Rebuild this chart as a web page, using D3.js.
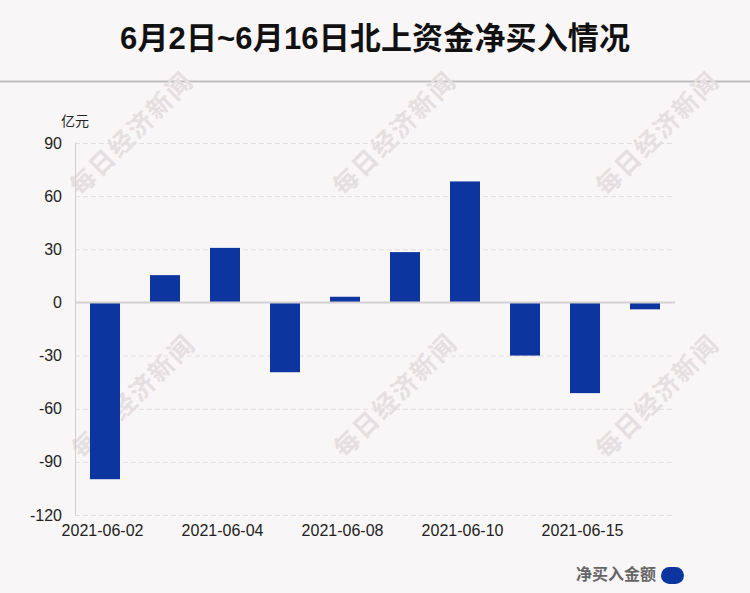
<!DOCTYPE html>
<html><head><meta charset="utf-8">
<script src="https://cdn.jsdelivr.net/npm/d3@7"></script>
<style>body{margin:0;background:#f9f6f7}svg{display:block}</style>
</head><body><svg id="c" width="750" height="593"></svg>
<script>
const categories = ["2021-06-02","2021-06-03","2021-06-04","2021-06-07","2021-06-08","2021-06-09","2021-06-10","2021-06-11","2021-06-15","2021-06-16"];
const netBuy = [-99.8, 15.4, 30.8, -39.4, 3.2, 28.4, 68.3, -30.0, -51.2, -3.9];
const yTicks = [-120, -90, -60, -30, 0, 30, 60, 90];
const titleText = "6月2日~6月16日北上资金净买入情况";
const unitLabel = "亿元";
const seriesName = "净买入金额";
const watermarkText = "每日经济新闻";

(function () {
const W = 750, H = 593;
const svg = d3.select("#c");
svg.append("rect").attr("width", W).attr("height", H).attr("fill", "#f9f6f7");

const pL = 75, pR = 675, pT = 143, pB = 515;
const x = d3.scaleBand().domain(categories).range([pL, pR]).paddingInner(0.5).paddingOuter(0.25);
const y = d3.scaleLinear().domain([-120, 90]).range([pB, pT]);

// title
svg.append("text").attr("x", 375).attr("y", 49).attr("text-anchor", "middle")
  .attr("font-family", "'Liberation Sans','Noto Sans CJK SC',sans-serif")
  .attr("font-weight", "bold").attr("font-size", 31).attr("fill", "#111")
  .attr("textLength", 510).attr("lengthAdjust", "spacing")
  .text(titleText);
svg.append("line").attr("x1", 0).attr("x2", W).attr("y1", 81.5).attr("y2", 81.5)
  .attr("stroke", "#bfbfbf").attr("stroke-width", 2);

// grid
svg.append("g").selectAll("line").data(yTicks.filter(d => d !== 0)).join("line")
  .attr("x1", pL).attr("x2", 672).attr("y1", d => y(d) + 0.5).attr("y2", d => y(d) + 0.5)
  .attr("stroke", "#e2dedf").attr("stroke-dasharray", "5,3");

// watermarks
const wm = [[130,132],[393,132],[656,132],[132,395],[394,394],[656,395]];
svg.append("g").selectAll("text").data(wm).join("text")
  .attr("transform", d => `translate(${d[0]},${d[1]}) rotate(-45)`)
  .attr("text-anchor", "middle").attr("dominant-baseline", "central")
  .attr("font-family", "'Noto Sans CJK SC',sans-serif").attr("font-weight", "bold")
  .attr("font-size", 25).attr("letter-spacing", 2).attr("fill", "#e4e0e1")
  .text(watermarkText);

// y axis
const yAxis = d3.axisLeft(y).tickValues(yTicks).tickSize(0).tickPadding(13).tickFormat(d => String(d));
const ya = svg.append("g").attr("transform", `translate(${pL},0)`).call(yAxis);
ya.select(".domain").remove();
ya.selectAll("text").attr("font-family", "'Liberation Sans',Arial,sans-serif").attr("font-size", 16).attr("fill", "#222");
svg.append("line").attr("x1", pL + 0.5).attr("x2", pL + 0.5).attr("y1", pT).attr("y2", pB)
  .attr("stroke", "#cfcfcf");

svg.append("text").attr("x", 61).attr("y", 126)
  .attr("font-family", "'Noto Sans CJK SC',sans-serif").attr("font-size", 14).attr("fill", "#222")
  .text(unitLabel);

// bars
svg.append("g").selectAll("rect").data(netBuy).join("rect")
  .attr("x", (d, i) => x(categories[i]))
  .attr("width", x.bandwidth())
  .attr("y", d => y(Math.max(0, d)))
  .attr("height", d => Math.abs(y(d) - y(0)))
  .attr("fill", "#0d359f");

// zero line
svg.append("line").attr("x1", pL).attr("x2", pR).attr("y1", y(0)).attr("y2", y(0))
  .attr("stroke", "#d2d0d1").attr("stroke-width", 2);

// x axis
const xAxis = d3.axisBottom(x).tickSize(0).tickPadding(10)
  .tickFormat((d, i) => i % 2 === 0 ? d : "");
const xa = svg.append("g").attr("transform", `translate(0,${pB})`).call(xAxis);
xa.select(".domain").remove();
xa.selectAll("text").attr("font-family", "'Liberation Sans',Arial,sans-serif").attr("font-size", 16).attr("fill", "#222").attr("dx", -2.5);

// legend
svg.append("text").attr("x", 656).attr("y", 580).attr("text-anchor", "end")
  .attr("font-family", "'Noto Sans CJK SC',sans-serif").attr("font-weight", "bold")
  .attr("font-size", 16).attr("fill", "#666").text(seriesName);
svg.append("rect").attr("x", 661).attr("y", 567).attr("width", 23).attr("height", 17).attr("rx", 8.5)
  .attr("fill", "#0d359f");
})();
</script></body></html>
